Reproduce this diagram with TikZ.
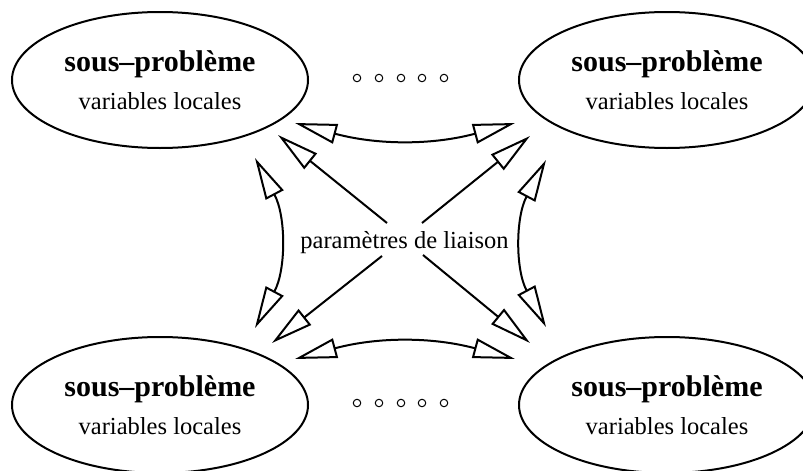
\documentclass[tikz,border=0pt]{standalone}
\usepackage{fontspec}
\setmainfont{Liberation Serif}
\usetikzlibrary{arrows.meta,shapes.geometric}
\begin{document}
\begin{tikzpicture}[x=1pt,y=-1pt,
  sp/.style={ellipse, draw, line width=2pt, minimum width=296pt, minimum height=136pt,
    inner sep=0pt, align=center, font=\fontsize{24.5}{38}\selectfont},
  conn/.style={line width=2pt, {Triangle[open,length=42pt,width=20pt]}-{Triangle[open,length=42pt,width=20pt]}},
  diag/.style={line width=2pt, -{Triangle[open,length=42pt,width=20pt]}},
  dot/.style={circle, draw, line width=1pt, minimum size=7.5pt, inner sep=0pt}]
\useasboundingbox (0,0) rectangle (803,471);
\clip (0,0) rectangle (803,471);
\newcommand{\sptext}{{\fontsize{30}{38}\selectfont\bfseries sous–problème}\\variables locales}
\node[sp] (tl) at (160,80) {\sptext};
\node[sp] (tr) at (667,80) {\sptext};
\node[sp] (bl) at (160,405) {\sptext};
\node[sp] (br) at (667,405) {\sptext};
\node[anchor=base, inner sep=0pt, font=\fontsize{24.5}{30}\selectfont] (lab) at (404.5,248) {paramètres de liaison};
\foreach \i/\x in {1/357,2/379,3/401,4/422,5/444}{
  \node[dot] (dt\i) at (\x,78) {};
  \node[dot] (db\i) at (\x,403) {};
}
% arrow end points
\coordinate (htl) at (295,123);
\coordinate (htr) at (515,123);
\coordinate (hbl) at (295,359);
\coordinate (hbr) at (515,359);
\coordinate (vlt) at (255,158);
\coordinate (vlb) at (255,328);
\coordinate (vrt) at (546,160);
\coordinate (vrb) at (546,327);
\coordinate (dtl0) at (387,223);
\coordinate (dtl) at (278,135);
\coordinate (dtr0) at (422,223);
\coordinate (dtr) at (530,136);
\coordinate (dbl0) at (382,256);
\coordinate (dbl) at (272,343);
\coordinate (dbr0) at (423,255);
\coordinate (dbr) at (530,343);
\draw[conn] (htl) to[bend right=15] (htr);
\draw[conn] (hbl) to[bend left=15] (hbr);
\draw[conn] (vlt) to[bend left=28] (vlb);
\draw[conn] (vrt) to[bend right=28] (vrb);
\draw[diag] (dtl0) -- (dtl);
\draw[diag] (dtr0) -- (dtr);
\draw[diag] (dbl0) -- (dbl);
\draw[diag] (dbr0) -- (dbr);
\end{tikzpicture}
\end{document}
